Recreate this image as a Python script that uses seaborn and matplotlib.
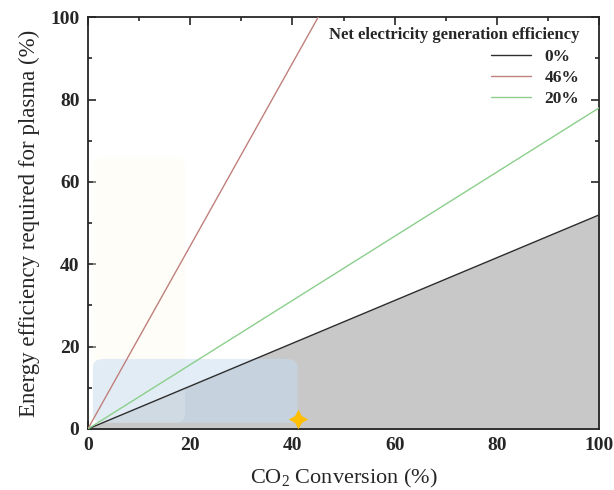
import numpy as np
import pandas as pd
import seaborn as sns
import matplotlib.pyplot as plt
from matplotlib.patches import FancyBboxPatch
from matplotlib.ticker import MultipleLocator

# data
conversion = [0, 100]
eff_0 = [0, 52]
eff_46 = [0, 222]
eff_20 = [0, 78]
labels = ['0%', '46%', '20%']
line_colors = ['#2e2e2e', '#c0807c', '#8ccf8c']
star_x, star_y = 41, 2.5

df = pd.DataFrame({
    'conv': conversion * 3,
    'eff': eff_0 + eff_46 + eff_20,
    'gen': [labels[0]] * 2 + [labels[1]] * 2 + [labels[2]] * 2,
})

sns.set_style('ticks')
plt.rcParams['font.family'] = ['Liberation Serif', 'DejaVu Serif']
plt.rcParams['mathtext.fontset'] = 'custom'
plt.rcParams['mathtext.rm'] = 'Liberation Serif'
plt.rcParams['mathtext.it'] = 'Liberation Serif:italic'

fig = plt.figure(figsize=(6.14, 4.9), dpi=100)
ax = fig.add_axes([0.143, 0.1245, 0.833, 0.8405])

# shaded region under the 0% line
ax.fill_between(conversion, [0, 0], eff_0, color='#c8c8c8', zorder=1)

# highlight boxes
ax.add_patch(FancyBboxPatch((1.0, 1.5), 18, 64.5, boxstyle='round,pad=0,rounding_size=2',
                            facecolor='#fffbea', alpha=0.35, edgecolor='none', zorder=2))
ax.add_patch(FancyBboxPatch((1.0, 1.5), 40, 15.5, boxstyle='round,pad=0,rounding_size=2',
                            facecolor='#c6dcf2', alpha=0.5, edgecolor='none', zorder=2))

sns.lineplot(data=df, x='conv', y='eff', hue='gen', palette=line_colors,
             hue_order=labels, linewidth=1, ax=ax, zorder=3)

ax.plot([star_x], [star_y], marker=(4, 1, 0), markersize=14, color='#ffbf00',
        markeredgewidth=0, linestyle='none', zorder=5, clip_on=False)

ax.set_xlim(0, 100)
ax.set_ylim(0, 100)
ax.xaxis.set_major_locator(MultipleLocator(20))
ax.xaxis.set_minor_locator(MultipleLocator(10))
ax.yaxis.set_major_locator(MultipleLocator(20))
ax.yaxis.set_minor_locator(MultipleLocator(10))
ax.tick_params(which='both', direction='in', top=True, right=True, width=1.2)
ax.tick_params(which='major', length=6, labelsize=14, pad=6)
ax.tick_params(which='minor', length=3)
for lab in ax.get_xticklabels() + ax.get_yticklabels():
    lab.set_fontweight('bold')
for sp in ax.spines.values():
    sp.set_linewidth(1.3)

ax.set_xlabel('CO$_2$ Conversion (%)', fontsize=16, labelpad=9)
ax.set_ylabel('Energy efficiency required for plasma (%)', fontsize=16.5, labelpad=7)

leg = ax.legend(title='Net electricity generation efficiency', loc='upper right',
                bbox_to_anchor=(0.985, 1.005), frameon=False, alignment='right',
                fontsize=12.5, handlelength=2.3, labelspacing=0.3, borderaxespad=0.3)
leg.get_title().set_fontweight('bold')
leg.get_title().set_fontsize(12)
for t in leg.get_texts():
    t.set_fontweight('bold')

fig.savefig('out.png', dpi=100)
